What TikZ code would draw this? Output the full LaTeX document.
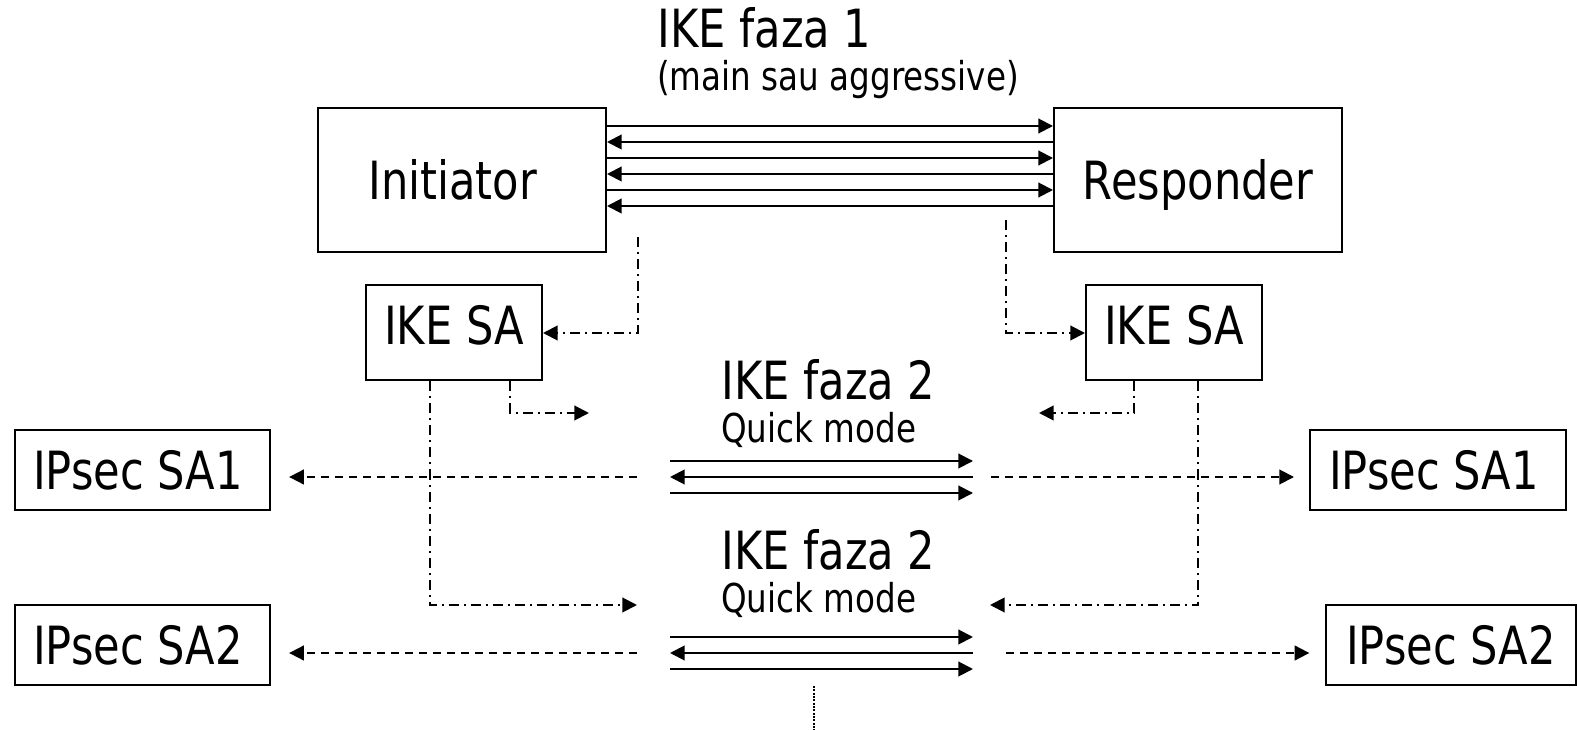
\documentclass[tikz,border=0pt]{standalone}
\usepackage{fontspec}
\setmainfont[FakeStretch=0.82]{DejaVu Sans}
\usetikzlibrary{arrows.meta}

\begin{document}
\begin{tikzpicture}[x=0.75pt,y=-0.75pt,
                    every node/.style={inner sep=0pt,font=\fontsize{39.5}{44}\selectfont},
                    sabox/.style={draw,line width=1.5pt,text height=28.8pt,text depth=0pt},
                    small/.style={anchor=base west,font=\fontsize{29.8}{34}\selectfont},
                    >={Triangle[length=11pt,width=11pt]},
                    msg/.style={line width=1.5pt},
                    dashdot/.style={line width=1.5pt,->,dash pattern=on 7.5pt off 3.75pt on 1.5pt off 3.75pt},
                    dashline/.style={line width=1.5pt,->,dash pattern=on 6pt off 4.5pt}]

\useasboundingbox (0,0) rectangle (1577,730);

% peers
\node[sabox,minimum width=216pt,minimum height=108pt] (init) at (462,180.5) {Initiator\hspace*{14pt}};
\node[sabox,minimum width=216pt,minimum height=108pt] (resp) at (1198,180.5) {Responder};

\node[sabox,minimum width=132pt,minimum height=71.25pt,text depth=12pt] (ikeL) at (454,333) {IKE SA};
\node[sabox,minimum width=132pt,minimum height=71.25pt,text depth=12pt] (ikeR) at (1174,333) {IKE SA};

\node[sabox,minimum width=191.25pt,minimum height=59.25pt] (sa1L) at (142,470) {IPsec SA1\hspace*{6pt}};
\node[sabox,minimum width=192.5pt,minimum height=59.25pt] (sa1R) at (1438,470) {IPsec SA1\hspace*{6pt}};
\node[sabox,minimum width=191.25pt,minimum height=60pt] (sa2L) at (142,645) {IPsec SA2\hspace*{6pt}};
\node[sabox,minimum width=188pt,minimum height=60pt] (sa2R) at (1451,645) {IPsec SA2};

% titles
\node[anchor=base west] (faza1) at (657,48) {IKE faza 1};
\node[small] (faza1sub) at (657,91) {(main sau aggressive)};
\node[anchor=base west] (faza2a) at (721,400) {IKE faza 2};
\node[small] (quicka) at (721,443) {Quick mode};
\node[anchor=base west] (faza2b) at (721,569) {IKE faza 2};
\node[small] (quickb) at (721,612) {Quick mode};

% phase 1 exchange
\foreach \yy/\dir in {126/->,142/<-,158/->,174/<-,190/->,206/<-}
  \draw[msg,\dir] (init.east |- 0,\yy) -- (resp.west |- 0,\yy);

% quick mode exchanges
\coordinate (q1w) at (670,461);
\coordinate (q1e) at (973,461);
\coordinate (q2w) at (670,637);
\coordinate (q2e) at (973,637);
\foreach \q in {q1,q2}{
  \draw[msg,->] (\q w) -- (\q e);
  \draw[msg,<-] ([yshift=-12pt]\q w) -- ([yshift=-12pt]\q e);
  \draw[msg,->] ([yshift=-24pt]\q w) -- ([yshift=-24pt]\q e);
}

% IKE SA creation
\coordinate (initfoot) at (638,237);
\coordinate (respfoot) at (1006,220);
\draw[dashdot] (initfoot) |- (ikeL.east);
\draw[dashdot] (respfoot) |- (ikeR.west);

% IKE SA protects phase 2
\coordinate (p1L) at (589,413);
\coordinate (p2L) at (637,605);
\coordinate (p1R) at (1039,413);
\coordinate (p2R) at (990,605);
\draw[dashdot] (ikeL.south -| 510,0) |- (p1L);
\draw[dashdot] (ikeL.south -| 430,0) |- (p2L);
\draw[dashdot] (ikeR.south -| 1134,0) |- (p1R);
\draw[dashdot] (ikeR.south -| 1198,0) |- (p2R);

% IPsec SAs
\coordinate (o1L) at (637,477);
\coordinate (o1R) at (991,477);
\coordinate (o2L) at (637,653);
\coordinate (o2R) at (1006,653);
\draw[dashline,shorten >=14pt] (o1L) -- (sa1L.east |- o1L);
\draw[dashline,shorten >=11pt] (o1R) -- (sa1R.west |- o1R);
\draw[dashline,shorten >=14pt] (o2L) -- (sa2L.east |- o2L);
\draw[dashline,shorten >=11.5pt] (o2R) -- (sa2R.west |- o2R);

% more to come
\coordinate (moretop) at (814,686);
\coordinate (morebot) at (814,730);
\draw[line width=1.5pt,dash pattern=on 1.5pt off 1pt] (moretop) -- (morebot);

\end{tikzpicture}
\end{document}
